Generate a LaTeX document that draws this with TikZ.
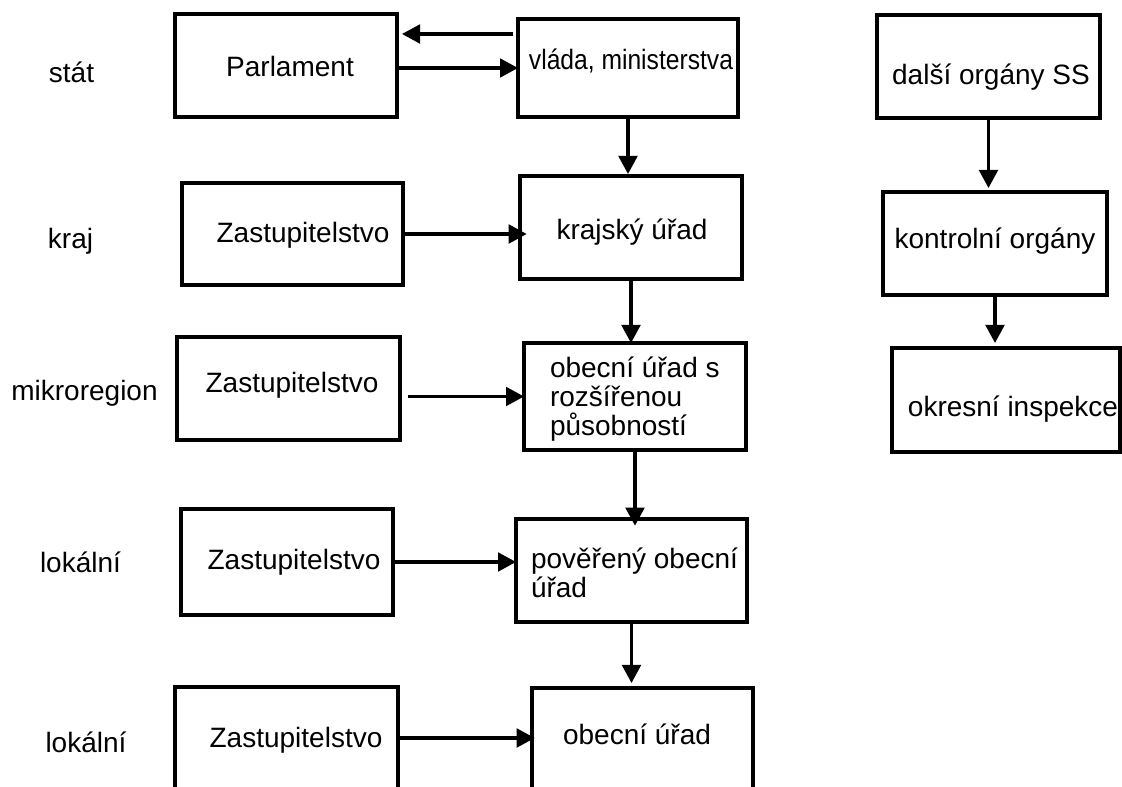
\documentclass[tikz,border=0pt]{standalone}
\usepackage{fontspec}
\usepackage{graphicx}
\setmainfont{Liberation Sans}
\usetikzlibrary{arrows.meta,fit}
\begin{document}
\begin{tikzpicture}[x=0.75pt,y=-0.75pt,
  box/.style={draw, line width=2.5pt, inner sep=0pt, outer sep=0pt},
  txt/.style={inner sep=0pt, outer sep=0pt, font=\fontsize{21}{24}\selectfont, text=black},
  lab/.style={txt, anchor=base},
  labw/.style={txt, anchor=base west},
  arr/.style={line width=2.3pt, -{Triangle[length=13.5pt,width=14pt]}}
]
\useasboundingbox (0,0) rectangle (1122,787);
\clip (0,0) rectangle (1122,787);

% level labels
\node[lab] (Lstat) at (71.5,83) {stát};
\node[lab] (Lkraj) at (70.5,249) {kraj};
\node[lab] (Lmikro) at (84.5,401) {mikroregion};
\node[lab] (Llok1) at (80.5,573) {lokální};
\node[lab] (Llok2) at (86,753) {lokální};

% boxes
\node[box, fit={(175,14) (397,117)}] (parl) {};
\node[box, fit={(518,19) (738,117)}] (vlada) {};
\node[box, fit={(877,15) (1100,118)}] (dalsi) {};
\node[box, fit={(520,176) (742,279)}] (kraj) {};
\node[box, fit={(182,183) (403,285)}] (zk) {};
\node[box, fit={(883,192) (1107,295)}] (kontr) {};
\node[box, fit={(524,343) (746,450)}] (orp) {};
\node[box, fit={(177,337) (400,440)}] (zm) {};
\node[box, fit={(892,348) (1120,452)}] (okres) {};
\node[box, fit={(516,519) (747,622)}] (pou) {};
\node[box, fit={(181,509) (393,615)}] (zl) {};
\node[box, fit={(532,688) (753,800)}] (ou) {};
\node[box, fit={(175,687) (398,800)}] (zl2) {};

% box texts
\node[lab] (parlT) at (290,77) {Parlament};
\node[lab] (vladaT) at (631,70) {\scalebox{0.88}[1]{vláda, ministerstva}};
\node[lab] (dalsiT) at (991,85) {další orgány SS};
\node[lab] (krajT) at (632,240) {krajský úřad};
\node[lab] (zkT) at (303,243) {Zastupitelstvo};
\node[lab] (kontrT) at (995,249) {kontrolní orgány};
\node[labw] (orpT1) at (550,378) {obecní úřad s};
\node[labw] (orpT2) at (550,407) {rozšířenou};
\node[labw] (orpT3) at (550,436) {působností};
\node[lab] (zmT) at (292,393) {Zastupitelstvo};
\node[lab] (okresT) at (1013,417) {okresní inspekce};
\node[labw] (pouT1) at (531,569) {pověřený obecní};
\node[labw] (pouT2) at (531,598) {úřad};
\node[lab] (zlT) at (294,570) {Zastupitelstvo};
\node[lab] (ouT) at (637,745) {obecní úřad};
\node[lab] (zl2T) at (296,748) {Zastupitelstvo};

% connectors
\draw[arr, shorten <=3.75pt, shorten >=3.75pt] ([yshift=-11.25pt]vlada.north west) -- ([yshift=-15pt]parl.north east);
\draw[arr] (vlada.west -| parl.east) -- (vlada.west);
\draw[arr, shorten >=1.5pt] (vlada.south) -- (vlada.south |- kraj.north);
\draw[arr, shorten >=-5pt] (zk.east) -- (zk.east -| kraj.west);
\draw[arr] (kraj.south) -- (kraj.south |- orp.north);
\draw[arr, shorten <=6pt] (orp.west -| zm.east) -- (orp.west);
\draw[arr, shorten >=-5pt] (orp.south) -- (orp.south |- pou.north);
\draw[arr] (zl.east) -- (zl.east -| pou.west);
\draw[arr, shorten >=3.75pt] (pou.south) -- (pou.south |- ou.north);
\draw[arr, shorten >=-2pt] ([yshift=-38.25pt]zl2.north east) -- ([yshift=-37.5pt]ou.north west);
\draw[arr, shorten >=3pt] (dalsi.south) -- (dalsi.south |- kontr.north);
\draw[arr, shorten >=3.75pt] (kontr.south) -- (kontr.south |- okres.north);
\end{tikzpicture}
\end{document}
